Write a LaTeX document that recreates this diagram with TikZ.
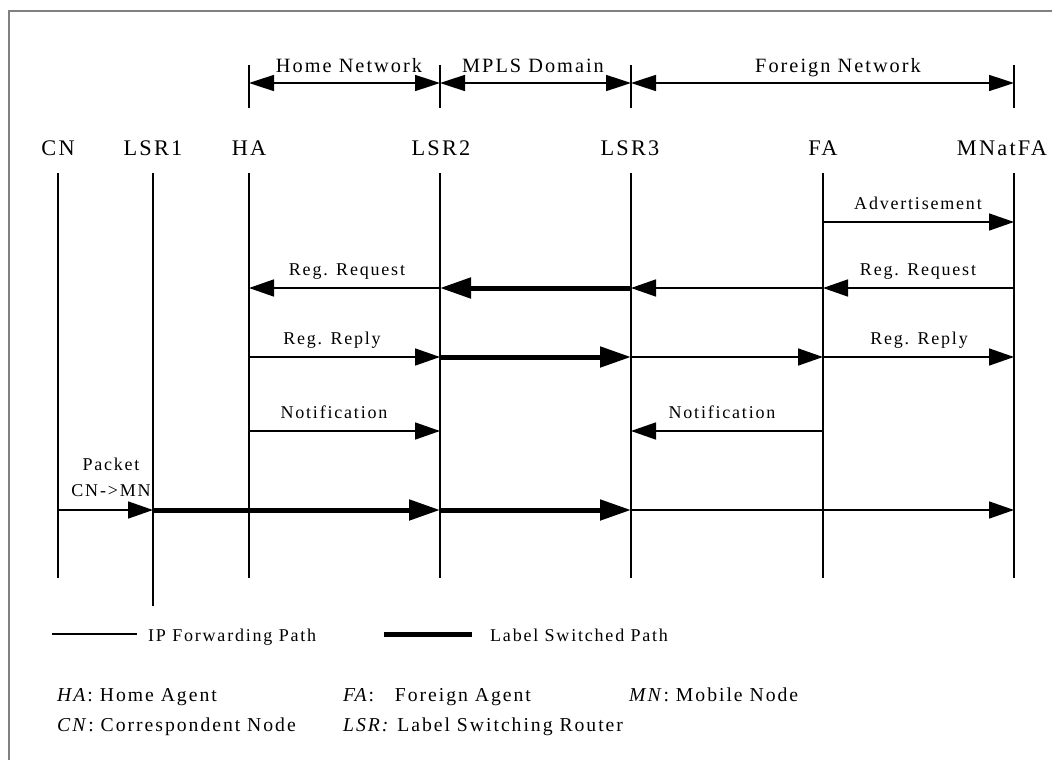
\documentclass[tikz,border=0pt]{standalone}
\usepackage{fontspec}
\setmainfont{Liberation Serif}[LetterSpace=10]
\usetikzlibrary{arrows.meta}
\begin{document}
\begin{tikzpicture}[x=1pt,y=-1pt,
  lifeline/.style={line width=1.6pt},
  tick/.style={line width=1.6pt},
  ipmsg/.style={line width=1.6pt,-{Triangle[length=25pt,width=17pt]}},
  lspmsg/.style={line width=5pt,-{Triangle[length=31pt,width=20pt]}},
  span/.style={line width=1.6pt,{Triangle[length=25pt,width=16pt]}-{Triangle[length=25pt,width=16pt]}},
  entity/.style={font=\fontsize{22.3}{25}\selectfont,anchor=base,inner sep=0pt},
  domlabel/.style={font=\fontsize{20.3}{23}\selectfont,anchor=base,inner sep=0pt},
  msglabel/.style={font=\fontsize{18}{21}\selectfont,anchor=base,inner sep=0pt},
  legendtext/.style={font=\fontsize{18}{21}\selectfont,anchor=base west,inner sep=0pt},
  abbrtext/.style={font=\fontsize{19.7}{22}\selectfont,anchor=base west,inner sep=0pt},
  frameline/.style={draw=black!50,line width=2pt}]
\useasboundingbox (0,0) rectangle (1052,760);

% outer frame (open to the right and bottom)
\draw[frameline] (9,760) -- (9,11) -- (1052,11);

% entity names
\node[entity] (lCN)   at (58,155)   {CN};
\node[entity] (lLSR1) at (153,155)  {LSR1};
\node[entity] (lHA)   at (249,155)  {HA};
\node[entity] (lLSR2) at (441,155)  {LSR2};
\node[entity] (lLSR3) at (630,155)  {LSR3};
\node[entity] (lFA)   at (823,155)  {FA};
\node[entity] (lMN)   at (1002,155) {MNatFA};

% lifeline end points and message rows
\foreach \n/\x in {CN/58,LSR1/153,HA/249,LSR2/440,LSR3/631,FA/823,MN/1014}{
  \coordinate (\n-top) at (\x,173);
  \coordinate (\n-bot) at (\x,578);
  \coordinate (\n-dt)  at (\x,65);
  \coordinate (\n-db)  at (\x,108);
  \coordinate (\n-dom) at (\x,83);
  \foreach \r/\y in {adv/222,req/288,rep/357,note/431,pkt/510}
    \coordinate (\n-\r) at (\x,\y);
}
\coordinate (LSR1-bot) at (153,606);

% lifelines
\foreach \n in {CN,LSR1,HA,LSR2,LSR3,FA,MN}
  \draw[lifeline] (\n-top) -- (\n-bot);

% network domains
\foreach \n in {HA,LSR2,LSR3,MN}
  \draw[tick] (\n-dt) -- (\n-db);
\draw[span] (HA-dom) -- (LSR2-dom);
\draw[span] (LSR2-dom) -- (LSR3-dom);
\draw[span] (LSR3-dom) -- (MN-dom);
\node[domlabel] (dHome) at (349,73) {Home Network};
\node[domlabel] (dMPLS) at (533,73) {MPLS Domain};
\node[domlabel] (dFor)  at (838,73) {Foreign Network};

% advertisement
\draw[ipmsg] (FA-adv) -- (MN-adv);
\node[msglabel] (tAdv) at (918,209) {Advertisement};

% registration request
\draw[ipmsg]  (MN-req) -- (FA-req);
\draw[ipmsg]  (FA-req) -- (LSR3-req);
\draw[lspmsg] (LSR3-req) -- (LSR2-req);
\draw[ipmsg]  (LSR2-req) -- (HA-req);
\node[msglabel] (tReq1) at (347,275) {Reg. Request};
\node[msglabel] (tReq2) at (918,275) {Reg. Request};

% registration reply
\draw[ipmsg]  (HA-rep) -- (LSR2-rep);
\draw[lspmsg] (LSR2-rep) -- (LSR3-rep);
\draw[ipmsg]  (LSR3-rep) -- (FA-rep);
\draw[ipmsg]  (FA-rep) -- (MN-rep);
\node[msglabel] (tRep1) at (332,344) {Reg. Reply};
\node[msglabel] (tRep2) at (919,344) {Reg. Reply};

% notifications
\draw[ipmsg] (HA-note) -- (LSR2-note);
\draw[ipmsg] (FA-note) -- (LSR3-note);
\node[msglabel] (tNot1) at (334,418) {Notification};
\node[msglabel] (tNot2) at (722,418) {Notification};

% data packet
\draw[ipmsg]  (CN-pkt) -- (LSR1-pkt);
\draw[lspmsg] (LSR1-pkt) -- (LSR2-pkt);
\draw[lspmsg] (LSR2-pkt) -- (LSR3-pkt);
\draw[ipmsg]  (LSR3-pkt) -- (MN-pkt);
\node[msglabel] (tPkt1) at (111,470) {Packet};
\node[msglabel] (tPkt2) at (111,496) {CN->MN};

% legend
\coordinate (ip-a) at (52,634);
\coordinate (ip-b) at (137,634);
\coordinate (ls-a) at (384,634);
\coordinate (ls-b) at (472,634);
\draw[line width=1.6pt] (ip-a) -- (ip-b);
\draw[line width=5pt] (ls-a) -- (ls-b);
\node[legendtext] (tIP) at (148,641) {IP Forwarding Path};
\node[legendtext] (tLS) at (490,641) {Label Switched Path};

% abbreviations
\node[abbrtext] (aHA)  at (57,701)  {\textit{HA}: Home Agent};
\node[abbrtext] (aFA)  at (343,701) {\textit{FA}:\ \ \ Foreign Agent};
\node[abbrtext] (aMN)  at (629,701) {\textit{MN}: Mobile Node};
\node[abbrtext] (aCN)  at (57,731)  {\textit{CN}: Correspondent Node};
\node[abbrtext] (aLSR) at (343,731) {\textit{LSR:} Label Switching Router};
\end{tikzpicture}
\end{document}
